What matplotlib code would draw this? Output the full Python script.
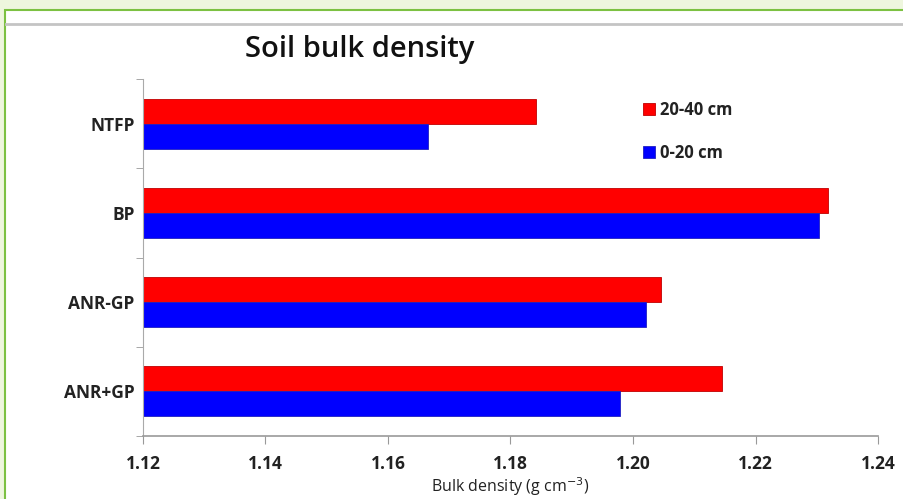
import matplotlib
matplotlib.use("Agg")
import matplotlib.pyplot as plt
from matplotlib.patches import Rectangle
from matplotlib.lines import Line2D
import numpy as np

categories = ["NTFP", "BP", "ANR-GP", "ANR+GP"]
depth_20_40 = [1.1841, 1.2318, 1.2045, 1.2146]
depth_0_20 = [1.1666, 1.2303, 1.2022, 1.1978]
x_ticks = [1.12, 1.14, 1.16, 1.18, 1.20, 1.22, 1.24]

plt.rcParams["font.family"] = ["Open Sans", "DejaVu Sans"]

fig = plt.figure(figsize=(9.04, 4.99), dpi=100)
fig.patch.set_facecolor("#eef6de")

# white panel with green border, and the grey rule near the top
fig.add_artist(Rectangle((5 / 904, -0.01), 1.0, 1 - 10 / 499 + 0.01,
                         transform=fig.transFigure, facecolor="white",
                         edgecolor="#7cc142", linewidth=1.5, zorder=0))
fig.add_artist(Line2D([6 / 904, 1.0], [1 - 24 / 499] * 2,
                      transform=fig.transFigure, color="#c4c4c4", linewidth=2))

ax = fig.add_axes([143 / 904, 63 / 499, 735 / 904, 357 / 499])
ax.set_facecolor("none")

y = np.arange(len(categories))
h = 0.28
ax.barh(y - h / 2, [v - 1.12 for v in depth_20_40], height=h, left=1.12,
        color="#ff0000", edgecolor="#c00000", linewidth=0.6, label="20-40 cm")
ax.barh(y + h / 2, [v - 1.12 for v in depth_0_20], height=h, left=1.12,
        color="#0000ff", edgecolor="#2020c0", linewidth=0.6, label="0-20 cm")

ax.set_xlim(1.12, 1.24)
ax.set_ylim(len(categories) - 0.5, -0.5)
ax.set_xticks(x_ticks)
ax.set_xticklabels([f"{t:.2f}" for t in x_ticks], fontsize=12.5, fontweight="bold")
ax.set_yticks(y)
ax.set_yticklabels(categories, fontsize=12.5, fontweight="bold")
ax.set_yticks(np.arange(len(categories) + 1) - 0.5, minor=True)
ax.tick_params(axis="y", which="major", length=0, pad=6, colors="#222222")
ax.tick_params(axis="y", which="minor", length=5, color="#999999")
ax.tick_params(axis="x", length=6, color="#999999", pad=8, colors="#222222")

for s in ["top", "right"]:
    ax.spines[s].set_visible(False)
ax.spines["left"].set_color("#aaaaaa")
ax.spines["bottom"].set_color("#999999")
ax.spines["bottom"].set_linewidth(1.2)

ax.set_xlabel("Bulk density (g cm$^{-3}$)", fontsize=11.5, labelpad=1, color="#222222")

fig.text(360 / 904, 1 - 50 / 499, "Soil bulk density", fontsize=21,
         fontweight="semibold", ha="center", va="center", color="#111111")

leg = ax.legend(loc="upper left", bbox_to_anchor=(0.66, 0.98), frameon=False,
                prop={"size": 12, "weight": "bold"}, handlelength=0.7,
                handleheight=0.7, handletextpad=0.3, labelspacing=1.5)
for t in leg.get_texts():
    t.set_color("#222222")

fig.savefig("out.png", dpi=100, facecolor=fig.get_facecolor())
